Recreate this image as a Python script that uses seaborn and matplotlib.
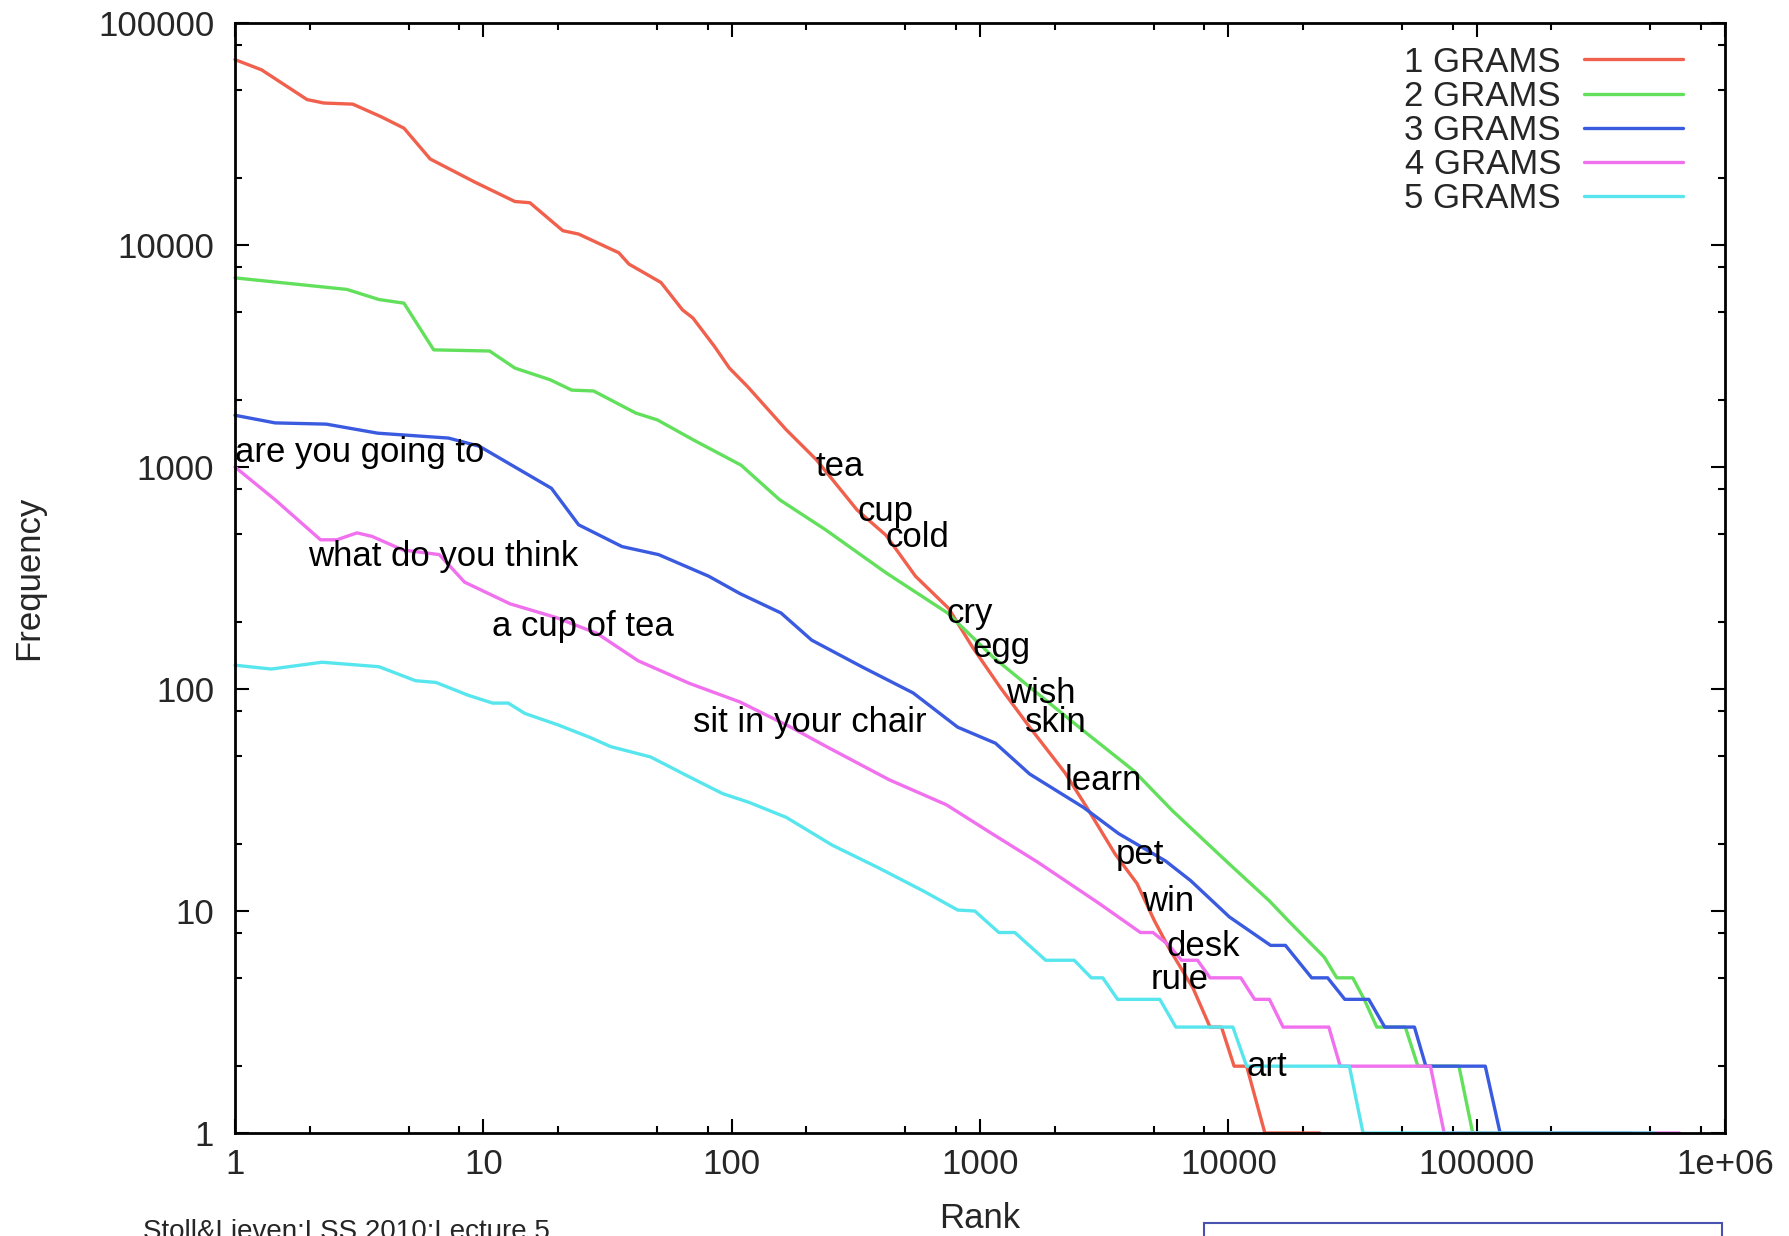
import numpy as np
import pandas as pd
import matplotlib
matplotlib.use('Agg')
import matplotlib.pyplot as plt
from matplotlib.ticker import LogLocator, NullFormatter
from matplotlib.patches import Rectangle
import seaborn as sns

SERIES = ['1 GRAMS', '2 GRAMS', '3 GRAMS', '4 GRAMS', '5 GRAMS']
COLORS = ['#f0604c', '#62e05c', '#3a5ae0', '#f070ee', '#58e6ee']

# rank / frequency (log-log)
rank_1 = [1, 1.28, 1.95, 2.28, 2.98, 3.88, 4.79, 6.11, 9.24, 13.4, 15.4, 20.9, 24.2, 35.1, 38.6,
          51.9, 63.4, 69.8, 85.3, 97.9, 116, 166, 219, 320, 418, 550, 747, 934, 1204, 1585,
          2200, 2691, 3506, 4288, 5024, 5767, 7203, 8440, 9385, 10550, 11850, 14030, 23330]
freq_1 = [68400, 61500, 45200, 43600, 43100, 37800, 33600, 24400, 19200, 15700, 15500, 11600,
          11200, 9230, 8200, 6780, 5100, 4690, 3490, 2790, 2300, 1470, 1080, 640, 493, 322, 231,
          154, 102, 67.3, 41.9, 29.3, 18.0, 13.3, 9.1, 6.8, 4.5, 3, 3, 2, 2, 1, 1]

rank_2 = [1, 2.82, 3.80, 4.79, 6.31, 10.6, 13.4, 18.6, 22.7, 27.8, 41.1, 50.2, 70.5, 109, 156,
          238, 418, 740, 1130, 1585, 2608, 4153, 5953, 9790, 14640, 17340, 24330, 27340, 31700,
          35250, 39600, 51600, 57990, 84870, 96400, 300000]
freq_2 = [7110, 6310, 5680, 5470, 3370, 3330, 2790, 2470, 2220, 2200, 1750, 1630, 1320, 1020,
          712, 523, 334, 220, 139, 102, 64.9, 42.9, 28.3, 16.8, 11.1, 9.1, 6.2, 5, 5, 4, 3, 3,
          2, 2, 1, 1]

rank_3 = [1, 1.45, 2.33, 3.76, 7.24, 9.64, 13.4, 18.8, 24.2, 36.2, 50.8, 80.9, 108, 158, 210,
          334, 538, 813, 1154, 1585, 2608, 3620, 5587, 7052, 10100, 14800, 16980, 21650, 25120,
          29440, 36770, 42650, 56160, 62430, 108300, 124300, 420000]
freq_3 = [1710, 1580, 1560, 1420, 1350, 1240, 1000, 802, 549, 438, 403, 322, 269, 220, 166, 126,
          96.0, 67.3, 57.0, 41.4, 29.3, 22.3, 16.8, 13.7, 9.4, 7, 7, 5, 5, 4, 4, 3, 3, 2, 2, 1, 1]

rank_4 = [1, 1.45, 2.21, 2.57, 3.10, 3.56, 4.74, 6.65, 8.40, 12.8, 19.6, 28.7, 42.0, 67.6, 108,
          173, 241, 431, 732, 1118, 1707, 3024, 4426, 4974, 5767, 6478, 7514, 8440, 11230, 12760,
          14640, 16620, 25390, 28220, 65140, 73960, 655000]
freq_4 = [1000, 712, 470, 470, 505, 487, 423, 403, 303, 242, 210, 178, 134, 106, 87.4, 67.3,
          55.0, 39.0, 30.1, 22.3, 16.6, 10.8, 8, 8, 7, 6, 6, 5, 5, 4, 4, 3, 3, 2, 2, 1, 1]

rank_5 = [1, 1.40, 2.24, 3.80, 5.33, 6.45, 8.67, 10.9, 12.6, 14.7, 20.0, 26.9, 32.6, 47.2, 65.5,
          91.9, 118, 166, 254, 388, 592, 813, 953, 1191, 1381, 1838, 2395, 2807, 3121, 3581,
          5298, 6145, 10430, 11850, 30720, 34870, 519000]
freq_5 = [128, 123, 132, 126, 109, 107, 93.8, 86.4, 86.4, 77.6, 68.9, 60.5, 55.0, 49.4, 40.9,
          33.8, 30.8, 26.4, 19.8, 15.7, 12.3, 10.1, 10, 8, 8, 6, 6, 5, 5, 4, 4, 3, 3, 2, 2, 1, 1]

PHRASE_TEXT = ['are you going to', 'what do you think', 'a cup of tea', 'sit in your chair']
PHRASE_RANK = [1, 1.97, 10.8, 69.8]
PHRASE_FREQ = [1053, 358, 174, 64.2]

WORD_TEXT = ['tea', 'cup', 'cold', 'cry', 'egg', 'wish', 'skin', 'learn', 'pet', 'win',
             'desk', 'rule', 'art']
WORD_RANK = [217, 320, 418, 732, 934, 1269, 1519, 2200, 3506, 4474, 5646, 4869, 11850]
WORD_FREQ = [914, 569, 438, 198, 139, 86.4, 64.2, 35.1, 16.2, 9.98, 6.28, 4.46, 1.81]

X_TICKS = [1, 10, 100, 1000, 10000, 100000, 1000000]
X_TICK_LABELS = ['1', '10', '100', '1000', '10000', '100000', '1e+06']
Y_TICKS = [1, 10, 100, 1000, 10000, 100000]
Y_TICK_LABELS = ['1', '10', '100', '1000', '10000', '100000']

FS = 25


def main():
    sns.set_style('ticks')
    plt.rcParams['font.family'] = ['Liberation Sans', 'DejaVu Sans']

    ranks = [rank_1, rank_2, rank_3, rank_4, rank_5]
    freqs = [freq_1, freq_2, freq_3, freq_4, freq_5]
    df = pd.concat([
        pd.DataFrame({'rank': r, 'freq': f, 'series': s})
        for r, f, s in zip(ranks, freqs, SERIES)
    ], ignore_index=True)

    fig = plt.figure(figsize=(17.89, 12.36), dpi=100)
    ax = fig.add_axes([235 / 1789, 1 - 1133 / 1236, 1490 / 1789, 1110 / 1236])
    ax.set_xscale('log')
    ax.set_yscale('log')

    sns.lineplot(data=df, x='rank', y='freq', hue='series', hue_order=SERIES,
                 palette=dict(zip(SERIES, COLORS)), estimator=None, sort=False,
                 linewidth=2.4, ax=ax, clip_on=False)

    ax.set_xlim(1, 1e6)
    ax.set_ylim(1, 1e5)

    ax.set_xticks(X_TICKS)
    ax.set_xticklabels(X_TICK_LABELS)
    ax.set_yticks(Y_TICKS)
    ax.set_yticklabels(Y_TICK_LABELS)
    ax.xaxis.set_minor_locator(LogLocator(base=10, subs=[2, 5, 8], numticks=30))
    ax.yaxis.set_minor_locator(LogLocator(base=10, subs=[2, 5, 8], numticks=30))
    ax.xaxis.set_minor_formatter(NullFormatter())
    ax.yaxis.set_minor_formatter(NullFormatter())

    ax.tick_params(which='both', direction='in', top=True, right=True,
                   width=1.5, color='black', labelsize=FS)
    ax.tick_params(which='major', length=10)
    ax.tick_params(which='minor', length=5)
    ax.tick_params(axis='x', pad=11)
    ax.tick_params(axis='y', pad=15)
    for sp in ax.spines.values():
        sp.set_linewidth(2.0)
        sp.set_color('black')
        sp.set_visible(True)

    ax.set_xlabel('Rank', fontsize=FS, va='center')
    ax.set_ylabel('Frequency', fontsize=FS, va='center')
    ax.xaxis.set_label_coords(0.5, -(1218 - 1133) / 1110)
    ax.yaxis.set_label_coords((28.5 - 235) / 1490, 0.5)

    for txt, r, f in zip(PHRASE_TEXT, PHRASE_RANK, PHRASE_FREQ):
        ax.text(r, f, txt, fontsize=FS, ha='left', va='baseline', color='black')
    for txt, r, f in zip(WORD_TEXT, WORD_RANK, WORD_FREQ):
        ax.text(r, f, txt, fontsize=FS, ha='left', va='baseline', color='black')

    handles, labels = ax.get_legend_handles_labels()
    for h in handles:
        h.set_linewidth(2.4)
    ax.legend(handles, labels, loc='upper right',
              bbox_to_anchor=((1683 - 235) / 1490, 1 - (45.5 - 23) / 1110),
              frameon=False, markerfirst=False, fontsize=FS,
              handlelength=2.85, handletextpad=0.66, labelspacing=0.035,
              borderpad=0, borderaxespad=0)

    fig.text(143 / 1789, 1 - 1219 / 1236, 'Stoll&Lieven:LSS 2010:Lecture 5',
             fontsize=20, ha='left', va='top')
    fig.patches.append(Rectangle((1204 / 1789, -0.05), (1722 - 1204) / 1789,
                                 0.05 + (1236 - 1223) / 1236,
                                 transform=fig.transFigure, fill=False,
                                 edgecolor='#4a52b0', linewidth=1.5))

    fig.savefig('out.png', dpi=100)
    plt.close(fig)


if __name__ == '__main__':
    main()
